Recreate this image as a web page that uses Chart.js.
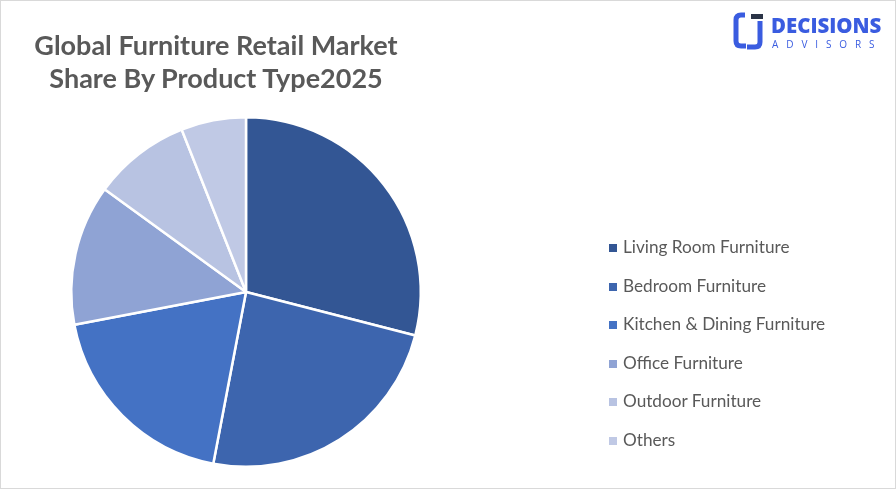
<!DOCTYPE html>
<html>
<head>
<meta charset="utf-8">
<script src="https://cdn.jsdelivr.net/npm/chart.js@4.4.1/dist/chart.umd.min.js"></script>
<style>
  html, body { margin: 0; padding: 0; background: #fff; }
  #wrap {
    position: relative; width: 896px; height: 489px; overflow: hidden;
    box-sizing: border-box; border: 1px solid #d9d9d9; background: #fff;
  }
  #grafico { position: absolute; left: -1px; top: -1px; }
  #titulo {
    position: absolute; left: 0; top: 27px; width: 430px; text-align: center;
    font-family: Lato, "Liberation Sans", sans-serif; font-weight: bold;
    font-size: 27px; line-height: 33px; color: #595959;
  }
  #legenda {
    position: absolute; left: 608px; top: 234px; margin: 0; padding: 0; list-style: none;
    font-family: Lato, "Liberation Sans", sans-serif; font-size: 17.2px; color: #595959;
  }
  #legenda li { height: 38.6px; line-height: 24px; white-space: nowrap; }
  #legenda span.cx {
    display: inline-block; width: 8px; height: 8px; margin-right: 6px; vertical-align: 1px;
  }
  #logo { position: absolute; left: 732px; top: 11px; }
  #logo .nome {
    position: absolute; left: 38px; top: 0px; font-family: "Open Sans", sans-serif;
    font-weight: 800; font-size: 20.4px; letter-spacing: 0px; color: #3a5ce0; line-height: 26px;
  }
  #logo .sub {
    position: absolute; left: 39px; top: 26px; font-family: "Open Sans", sans-serif;
    font-size: 10px; letter-spacing: 7.9px; color: #3a5ce0; line-height: 12px;
  }
</style>
</head>
<body>
<div id="wrap">
  <canvas id="grafico" width="896" height="489"></canvas>
  <div id="titulo">Global Furniture Retail Market<br>Share By Product Type2025</div>
  <ul id="legenda"></ul>
  <div id="logo">
    <svg width="36" height="38" viewBox="0 0 36 38">
      <path d="M12 3 H8 Q3 3 3 8 V29 Q3 34 8 34 H13" fill="none" stroke="#3a5ce0" stroke-width="5"/>
      <rect x="18" y="2" width="12" height="5" fill="#2b3447"/>
      <path d="M27 9 V30 Q27 35 22 35 H14" fill="none" stroke="#3a5ce0" stroke-width="5"/>
    </svg>
    <div class="nome">DECISIONS</div>
    <div class="sub">ADVISORS</div>
  </div>
</div>
<script>
// Dados do gráfico
const categorias = [
  'Living Room Furniture',
  'Bedroom Furniture',
  'Kitchen & Dining Furniture',
  'Office Furniture',
  'Outdoor Furniture',
  'Others'
];
const participacao = [29, 24, 19, 13, 9, 6];
const cores = ['#335694', '#3d65ae', '#4472c4', '#8fa3d4', '#b8c3e2', '#c0c9e5'];

(function() {
  'use strict';

  const ctx = document.getElementById('grafico');

  const grafico = new Chart(ctx, {
    type: 'pie',
    data: {
      labels: categorias,
      datasets: [{
        data: participacao,
        backgroundColor: cores,
        borderColor: '#ffffff',
        borderWidth: 2.5
      }]
    },
    options: {
      responsive: false,
      animation: false,
      layout: {
        padding: { left: 70, right: 474, top: 116, bottom: 21 }
      },
      plugins: {
        legend: { display: false },
        title: { display: false },
        tooltip: { enabled: false }
      }
    }
  });

  // Monta a legenda em HTML a partir do gráfico
  const itens = Chart.overrides.pie.plugins.legend.labels.generateLabels(grafico);
  const ul = document.getElementById('legenda');
  itens.forEach(function(item) {
    const li = document.createElement('li');
    const cx = document.createElement('span');
    cx.className = 'cx';
    cx.style.background = item.fillStyle;
    li.appendChild(cx);
    li.appendChild(document.createTextNode(item.text));
    ul.appendChild(li);
  });
})();
</script>
</body>
</html>
